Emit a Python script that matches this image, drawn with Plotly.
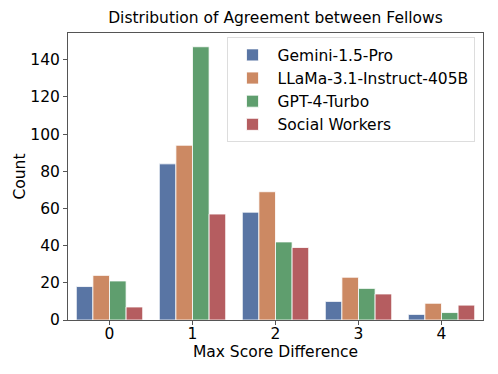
import plotly.graph_objects as go

categories = ["0", "1", "2", "3", "4"]
series_names = ["Gemini-1.5-Pro", "LLaMa-3.1-Instruct-405B", "GPT-4-Turbo", "Social Workers"]
gemini = [18, 84, 58, 10, 3]
llama = [24, 94, 69, 23, 9]
gpt4 = [21, 147, 42, 17, 4]
social = [7, 57, 39, 14, 8]
# seaborn "deep" palette, desaturated like barplot does
colors = ["#5975A4", "#CC8963", "#5F9E6E", "#B55D60"]

FONT = "DejaVu Sans, sans-serif"

fig = go.Figure()
for name, vals, col in zip(series_names, [gemini, llama, gpt4, social], colors):
    fig.add_trace(go.Bar(
        x=[int(c) for c in categories], y=vals, name=name,
        marker=dict(color=col, line=dict(color="white", width=0.8)),
    ))

# page body adds an 8px offset, so the figure is sized to fit what is visible
fig.update_layout(
    width=490, height=366,
    barmode="group", bargap=0.2, bargroupgap=0,
    paper_bgcolor="white", plot_bgcolor="white",
    margin=dict(l=60, r=15, t=25, b=54, autoexpand=False),
    title=dict(text="Distribution of Agreement between Fellows", xref="paper", x=0.5,
               xanchor="center", y=0.975, yanchor="middle",
               font=dict(family=FONT, size=15.5, color="black")),
    font=dict(family=FONT, size=15.5, color="black"),
    xaxis=dict(
        range=[-0.5, 4.5], tickmode="array", tickvals=[0, 1, 2, 3, 4], ticktext=categories,
        showline=True, linecolor="#555", linewidth=1, mirror=True, automargin=False,
        ticks="outside", ticklen=4, tickcolor="#555", showgrid=False, zeroline=False,
        ticklabelstandoff=-5,
        title=dict(text="Max Score Difference", font=dict(size=15.5), standoff=0),
        tickfont=dict(size=15.5),
    ),
    yaxis=dict(
        range=[0, 154.4], tickvals=[0, 20, 40, 60, 80, 100, 120, 140],
        showline=True, linecolor="#555", linewidth=1, mirror=True, automargin=False,
        ticks="outside", ticklen=4, tickcolor="#555", showgrid=False, zeroline=False,
        title=dict(text="Count", font=dict(size=15.5), standoff=0),
        tickfont=dict(size=15.5),
    ),
    legend=dict(
        x=0.382, y=0.985, xanchor="left", yanchor="top",
        bgcolor="rgba(255,255,255,0.8)", bordercolor="#ddd", borderwidth=1,
        font=dict(size=15.5), tracegroupgap=0, itemwidth=40,
    ),
)

fig.write_html("out.html")
